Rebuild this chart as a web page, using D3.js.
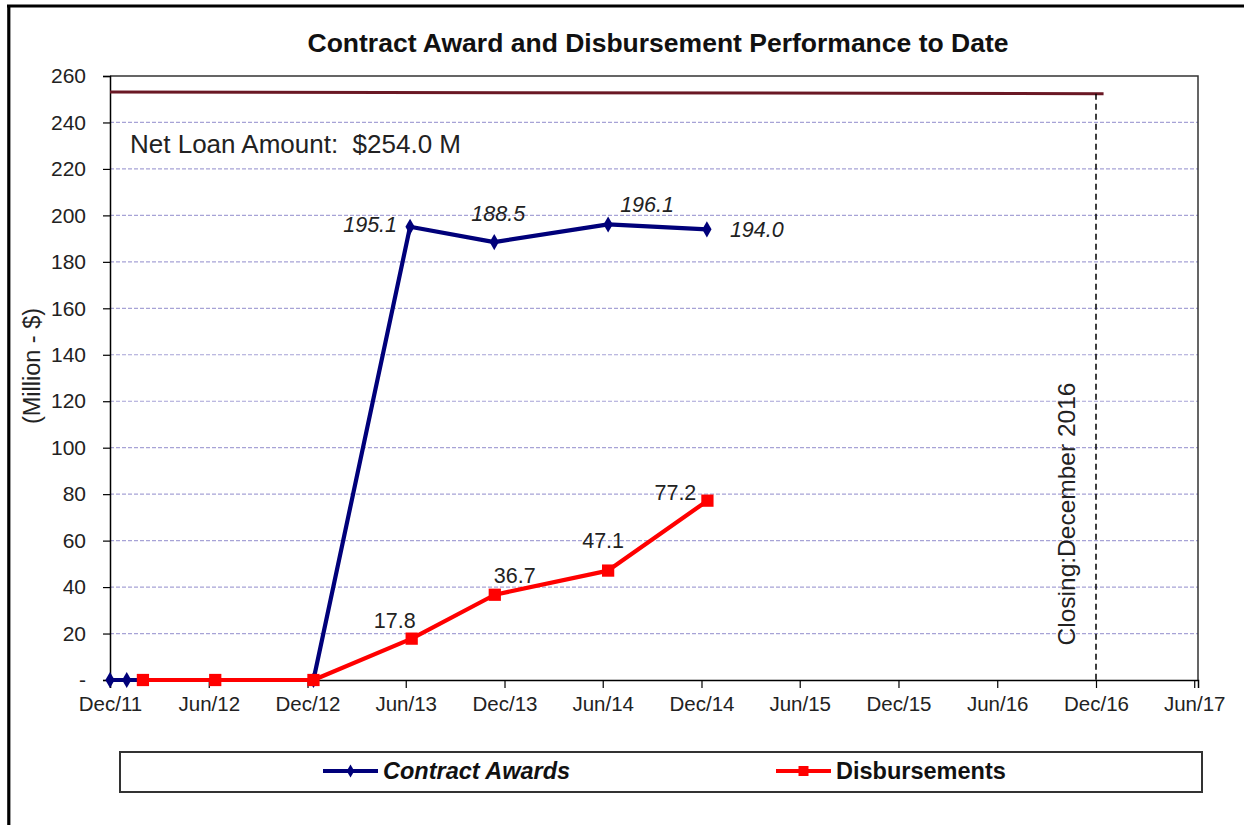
<!DOCTYPE html>
<html>
<head>
<meta charset="utf-8">
<script src="https://cdn.jsdelivr.net/npm/d3@7"></script>
<style>
  html, body { margin: 0; padding: 0; background: #fff; }
  svg { display: block; font-family: Arial, "Liberation Sans", sans-serif; }
</style>
</head>
<body>
<svg id="chart" width="1244" height="825"></svg>
<script>
// ---------------- DATA ----------------
const chartTitle = "Contract Award and Disbursement Performance to Date";
const yAxisTitle = "(Million - $)";
const netLoanText = "Net Loan Amount:  $254.0 M";
const closingText = "Closing:December 2016";

const xTickDates = ["2011-12-01","2012-06-01","2012-12-01","2013-06-01","2013-12-01","2014-06-01",
                    "2014-12-01","2015-06-01","2015-12-01","2016-06-01","2016-12-01","2017-06-01"];
const xTickLabels = ["Dec/11","Jun/12","Dec/12","Jun/13","Dec/13","Jun/14",
                     "Dec/14","Jun/15","Dec/15","Jun/16","Dec/16","Jun/17"];
const yTickValues = [0,20,40,60,80,100,120,140,160,180,200,220,240,260];

const awardDates  = ["2011-12-01","2012-01-01","2012-12-12","2013-06-09","2013-11-12","2014-06-11","2014-12-11"];
const awardValues = [0, 0, 0, 195.1, 188.5, 196.1, 194.0];
const awardLabels = [null, null, null, "195.1", "188.5", "196.1", "194.0"];

const disbDates  = ["2012-01-31","2012-06-13","2012-12-12","2013-06-12","2013-11-13","2014-06-11","2014-12-12"];
const disbValues = [0, 0, 0, 17.8, 36.7, 47.1, 77.2];
const disbLabels = [null, null, null, "17.8", "36.7", "47.1", "77.2"];

const netLoanDates  = ["2011-12-01","2016-12-15"];
const netLoanValues = [253.1, 252.4];

const closingDate = "2016-12-01";

const seriesNames = ["Contract Awards", "Disbursements"];

// ---------------- LAYOUT / STYLE ----------------
const parse = d3.utcParse("%Y-%m-%d");
const plot = { left: 110, right: 1198, top: 76, bottom: 680 };
const navy = "#00007a", red = "#ff0000";
// label offsets (dx, dy, anchor) — styling only
const awardLabelPos = [null, null, null, [-13, 5, "end"], [4, -21, "middle"], [12, -12, "start"], [23, 8, "start"]];
const disbLabelPos  = [null, null, null, [-17, -11, "middle"], [20, -12, "middle"], [-5, -23, "middle"], [-32, -1, "middle"]];

const svg = d3.select("#chart");

const x = d3.scaleUtc()
  .domain([parse("2011-12-01"), parse("2017-06-08")])
  .range([plot.left, plot.right]);
const y = d3.scaleLinear().domain([0, 260]).range([plot.bottom, plot.top]);

// outer frame (top and left black bars)
svg.append("line").attr("x1", 7).attr("x2", 1244).attr("y1", 6).attr("y2", 6)
  .attr("stroke", "#000").attr("stroke-width", 3);
svg.append("line").attr("x1", 8.8).attr("x2", 8.8).attr("y1", 5).attr("y2", 825)
  .attr("stroke", "#000").attr("stroke-width", 3.2);

// title
svg.append("text").attr("x", 658).attr("y", 52).attr("text-anchor", "middle")
  .attr("font-size", 26.5).attr("font-weight", "bold").attr("fill", "#111")
  .text(chartTitle);

// gridlines
svg.append("g").selectAll("line")
  .data(yTickValues.filter(v => v > 0 && v < 260))
  .join("line")
  .attr("x1", plot.left).attr("x2", plot.right)
  .attr("y1", d => y(d)).attr("y2", d => y(d))
  .attr("stroke", "#a7a3d6").attr("stroke-width", 1.2).attr("stroke-dasharray", "4,2");

// plot frame (top and right)
svg.append("path")
  .attr("d", `M${plot.left},${plot.top}H${plot.right}V${plot.bottom}`)
  .attr("fill", "none").attr("stroke", "#333").attr("stroke-width", 1.5);

// y axis
const yAxis = d3.axisLeft(y).tickValues(yTickValues).tickSize(7).tickPadding(17)
  .tickFormat(d => d === 0 ? "-" : d3.format("d")(d));
const gy = svg.append("g").attr("transform", `translate(${plot.left},0)`).call(yAxis);
gy.select(".domain").attr("stroke", "#000").attr("stroke-width", 1.5);
gy.selectAll(".tick line").attr("stroke", "#000").attr("stroke-width", 1.2);
gy.selectAll(".tick text").attr("font-size", 21).attr("fill", "#222").attr("font-family", null);

// x axis
const xAxis = d3.axisBottom(x).tickValues(xTickDates.map(parse)).tickSize(8).tickPadding(8)
  .tickFormat((d, i) => xTickLabels[i]);
const gx = svg.append("g").attr("transform", `translate(0,${plot.bottom})`).call(xAxis);
gx.select(".domain").attr("stroke", "#000").attr("stroke-width", 1.5);
gx.selectAll(".tick line").attr("stroke", "#000").attr("stroke-width", 1.2);
gx.selectAll(".tick text").attr("font-size", 20.5).attr("fill", "#222").attr("font-family", null);

// y axis title
svg.append("text").attr("transform", "translate(40,366) rotate(-90)")
  .attr("text-anchor", "middle").attr("font-size", 23.5).attr("fill", "#222")
  .text(yAxisTitle);

// net loan line
const netLoan = netLoanDates.map((d, i) => ({ d: parse(d), v: netLoanValues[i] }));
svg.append("path").datum(netLoan)
  .attr("d", d3.line().x(p => x(p.d)).y(p => y(p.v)))
  .attr("fill", "none").attr("stroke", "#6a1824").attr("stroke-width", 3);

// closing dashed line
svg.append("line")
  .attr("x1", x(parse(closingDate))).attr("x2", x(parse(closingDate)))
  .attr("y1", y(netLoanValues[1])).attr("y2", plot.bottom)
  .attr("stroke", "#000").attr("stroke-width", 1.5).attr("stroke-dasharray", "6,4");

svg.append("text").attr("transform", `translate(${x(parse(closingDate)) - 21},514) rotate(-90)`)
  .attr("text-anchor", "middle").attr("font-size", 24.5).attr("fill", "#222")
  .text(closingText);

// net loan text
svg.append("text").attr("x", 130).attr("y", 153).attr("font-size", 26).attr("fill", "#222")
  .style("white-space", "pre")
  .text(netLoanText);

// series
const awards = awardDates.map((d, i) => ({ d: parse(d), v: awardValues[i], label: awardLabels[i], pos: awardLabelPos[i] }));
const disb = disbDates.map((d, i) => ({ d: parse(d), v: disbValues[i], label: disbLabels[i], pos: disbLabelPos[i] }));
const line = d3.line().x(p => x(p.d)).y(p => y(p.v));

const diamond = d3.symbol().type(d3.symbolDiamond).size(75);
const square = d3.symbol().type(d3.symbolSquare).size(150);

svg.append("path").datum(awards).attr("d", line)
  .attr("fill", "none").attr("stroke", navy).attr("stroke-width", 4.2).attr("stroke-linejoin", "round");
svg.append("g").selectAll("path").data(awards).join("path")
  .attr("transform", p => `translate(${x(p.d)},${y(p.v)})`)
  .attr("d", diamond).attr("fill", navy);

svg.append("path").datum(disb).attr("d", line)
  .attr("fill", "none").attr("stroke", red).attr("stroke-width", 4.2).attr("stroke-linejoin", "round");
svg.append("g").selectAll("path").data(disb).join("path")
  .attr("transform", p => `translate(${x(p.d)},${y(p.v)})`)
  .attr("d", square).attr("fill", red);

// data labels
svg.append("g").selectAll("text").data(awards.filter(p => p.label)).join("text")
  .attr("x", p => x(p.d) + p.pos[0]).attr("y", p => y(p.v) + p.pos[1])
  .attr("text-anchor", p => p.pos[2])
  .attr("font-size", 21.5).attr("font-style", "italic").attr("fill", "#222")
  .text(p => p.label);
svg.append("g").selectAll("text").data(disb.filter(p => p.label)).join("text")
  .attr("x", p => x(p.d) + p.pos[0]).attr("y", p => y(p.v) + p.pos[1])
  .attr("text-anchor", p => p.pos[2])
  .attr("font-size", 21.5).attr("fill", "#222")
  .text(p => p.label);

// legend
svg.append("rect").attr("x", 120).attr("y", 752).attr("width", 1082).attr("height", 40)
  .attr("fill", "#fff").attr("stroke", "#333").attr("stroke-width", 2);
const legend = [
  { name: seriesNames[0], color: navy, sym: d3.symbol().type(d3.symbolDiamond).size(50), x0: 323, italic: true },
  { name: seriesNames[1], color: red, sym: d3.symbol().type(d3.symbolSquare).size(100), x0: 776, italic: false }
];
const lg = svg.append("g").selectAll("g").data(legend).join("g")
  .attr("transform", d => `translate(${d.x0},771)`);
lg.append("line").attr("x1", 0).attr("x2", 55).attr("y1", 0).attr("y2", 0)
  .attr("stroke", d => d.color).attr("stroke-width", 4);
lg.append("path").attr("transform", "translate(27.5,0)").attr("d", d => d.sym()).attr("fill", d => d.color);
lg.append("text").attr("x", 60).attr("y", 8)
  .attr("font-size", 23.5).attr("font-weight", "bold")
  .attr("font-style", d => d.italic ? "italic" : "normal")
  .attr("fill", "#111").text(d => d.name);
</script>
</body>
</html>
